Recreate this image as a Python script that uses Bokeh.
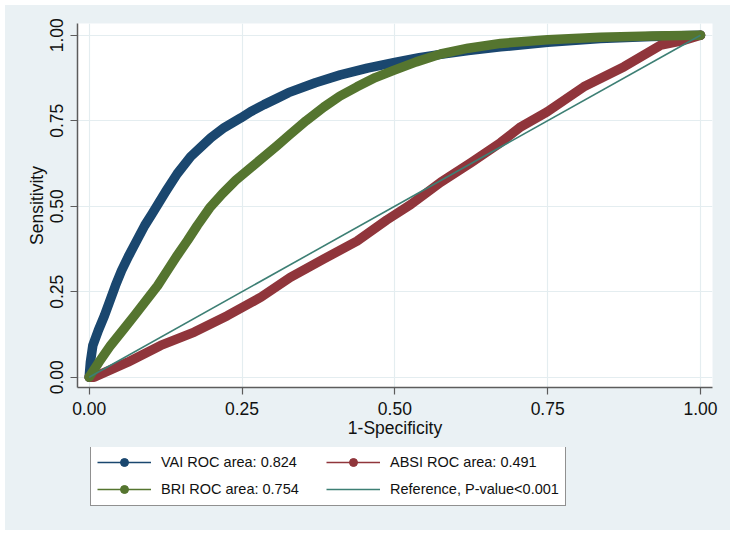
from bokeh.plotting import figure
from bokeh.layouts import column
from bokeh.models import Legend, LegendItem, FixedTicker, Range1d, ColumnDataSource
from bokeh.embed import file_html
from bokeh.resources import INLINE

# ---- data ----
vai_fpr = [0.0, 0.002, 0.006, 0.015, 0.025, 0.034, 0.043, 0.053, 0.065, 0.078, 0.091,
           0.103, 0.114, 0.126, 0.144, 0.166, 0.199, 0.221, 0.248, 0.264, 0.286, 0.308,
           0.326, 0.370, 0.411, 0.455, 0.498, 0.540, 0.575, 0.620, 0.673, 0.750, 0.836,
           0.920, 1.0]
vai_tpr = [0.0, 0.044, 0.093, 0.137, 0.180, 0.224, 0.268, 0.312, 0.356, 0.400, 0.444,
           0.478, 0.510, 0.545, 0.595, 0.645, 0.700, 0.730, 0.758, 0.776, 0.797, 0.816,
           0.832, 0.861, 0.884, 0.904, 0.920, 0.934, 0.944, 0.955, 0.966, 0.979, 0.990,
           0.996, 1.0]

bri_fpr = [0.0, 0.016, 0.035, 0.055, 0.074, 0.093, 0.112, 0.128, 0.144, 0.161, 0.177,
           0.197, 0.218, 0.240, 0.264, 0.286, 0.308, 0.326, 0.355, 0.384, 0.410, 0.438,
           0.468, 0.498, 0.535, 0.575, 0.620, 0.673, 0.750, 0.836, 0.920, 1.0]
bri_tpr = [0.0, 0.044, 0.093, 0.137, 0.180, 0.224, 0.268, 0.312, 0.356, 0.400, 0.444,
           0.495, 0.537, 0.576, 0.612, 0.645, 0.678, 0.706, 0.750, 0.790, 0.822, 0.849,
           0.876, 0.897, 0.922, 0.945, 0.962, 0.976, 0.987, 0.994, 0.998, 1.0]

absi_fpr = [0.0, 0.008, 0.063, 0.117, 0.172, 0.226, 0.281, 0.329, 0.384, 0.438, 0.487,
            0.526, 0.575, 0.625, 0.673, 0.706, 0.749, 0.809, 0.875, 0.935, 0.973, 1.0]
absi_tpr = [0.0, 0.0, 0.044, 0.093, 0.132, 0.180, 0.234, 0.292, 0.346, 0.398, 0.460,
            0.505, 0.570, 0.628, 0.686, 0.732, 0.776, 0.849, 0.908, 0.971, 0.985, 1.0]

ref_x = [0.0, 1.0]
ref_y = [0.0, 1.0]

tick_vals = [0.0, 0.25, 0.5, 0.75, 1.0]
tick_labels = ["0.00", "0.25", "0.50", "0.75", "1.00"]

# legend entries, in column order (column 1: VAI, BRI; column 2: ABSI, Reference)
labels = ["VAI ROC area: 0.824", "BRI ROC area: 0.754",
          "ABSI ROC area: 0.491", "Reference, P-value<0.001"]

# ---- styling ----
NAVY = "#1a476f"
MAROON = "#90353b"
GREEN = "#55752f"
TEAL = "#3d7f74"
BG = "#eaf1f4"
FONT = "Liberation Sans"

p = figure(frame_width=635, frame_height=364,
           min_border_left=72, min_border_right=18, min_border_top=18, min_border_bottom=60,
           x_range=Range1d(-0.0191, 1.0196), y_range=Range1d(-0.0301, 1.0342),
           output_backend="svg", toolbar_location=None,
           background_fill_color="white", border_fill_color=BG)
p.outline_line_color = None

# curves (drawing order as in the original: VAI, ABSI, BRI, reference)
p.line(vai_fpr, vai_tpr, line_color=NAVY, line_width=9.5, line_join="round", line_cap="round")
p.line(absi_fpr, absi_tpr, line_color=MAROON, line_width=9.5, line_join="round", line_cap="round")
p.line(bri_fpr, bri_tpr, line_color=GREEN, line_width=9.5, line_join="round", line_cap="round")
p.line(ref_x, ref_y, line_color=TEAL, line_width=1.6)

# axes
for ax in (p.xaxis, p.yaxis):
    ax.ticker = FixedTicker(ticks=tick_vals)
    ax.major_label_overrides = dict(zip(tick_vals, tick_labels))
    ax.axis_line_color = "#5c5c5c"
    ax.axis_line_width = 1.5
    ax.major_tick_line_color = "#5c5c5c"
    ax.major_tick_line_width = 1.2
    ax.major_tick_out = 7
    ax.major_tick_in = 0
    ax.minor_tick_line_color = None
    ax.major_label_text_font = FONT
    ax.major_label_text_font_size = "17.5px"
    ax.major_label_text_color = "#111111"
    ax.axis_label_text_font = FONT
    ax.axis_label_text_font_size = "17.5px"
    ax.axis_label_text_font_style = "normal"
    ax.axis_label_text_color = "#111111"

p.xaxis.axis_label = "1-Specificity"
p.yaxis.axis_label = "Sensitivity"
p.yaxis.major_label_orientation = "vertical"
p.xaxis.major_label_standoff = 7
p.yaxis.major_label_standoff = 7
p.xaxis.axis_label_standoff = 0
p.yaxis.axis_label_standoff = 1

for g in (p.xgrid, p.ygrid):
    g.ticker = FixedTicker(ticks=tick_vals)
    g.grid_line_color = "#e4edf0"
    g.grid_line_width = 1.2

# ---- legend strip below the graph ----
lg = figure(frame_width=635, frame_height=83,
            min_border_left=72, min_border_right=18, min_border_top=0, min_border_bottom=0,
            x_range=Range1d(0, 1), y_range=Range1d(0, 1),
            x_axis_location=None, y_axis_location=None,
            output_backend="svg", toolbar_location=None,
            background_fill_color=BG, border_fill_color=BG)
lg.outline_line_color = None
lg.grid.grid_line_color = None
lg.styles = {"background-color": BG}

NAN = float("nan")
items = []
for lab, col, marker in zip(labels, [NAVY, GREEN, MAROON, TEAL], [True, True, True, False]):
    # legend-only proxies: a single non-drawable (NaN) point so the legend glyph is shown
    rs = [lg.line("x", "y", source=ColumnDataSource(dict(x=[NAN], y=[NAN])),
                  line_color=col, line_width=1.5)]
    if marker:
        rs.append(lg.scatter("x", "y", source=ColumnDataSource(dict(x=[NAN], y=[NAN])), size=8,
                             fill_color=col, line_color=col))
    items.append(LegendItem(label=lab, renderers=rs))

legend = Legend(items=items, ncols=2, location=(13, 24), margin=0,
                glyph_width=54, glyph_height=20, label_standoff=10,
                padding=6, spacing=7, label_width=158, label_height=20,
                label_text_font=FONT, label_text_font_size="14.5px", label_text_color="#111111",
                border_line_color="#222222", border_line_width=1,
                background_fill_color="white", background_fill_alpha=1.0)
lg.add_layout(legend, "center")

layout = column(p, lg, spacing=0)
layout.margin = (5, 0, 0, 5)
layout.styles = {"background-color": BG}

open("out.html", "w").write(file_html(layout, INLINE))
